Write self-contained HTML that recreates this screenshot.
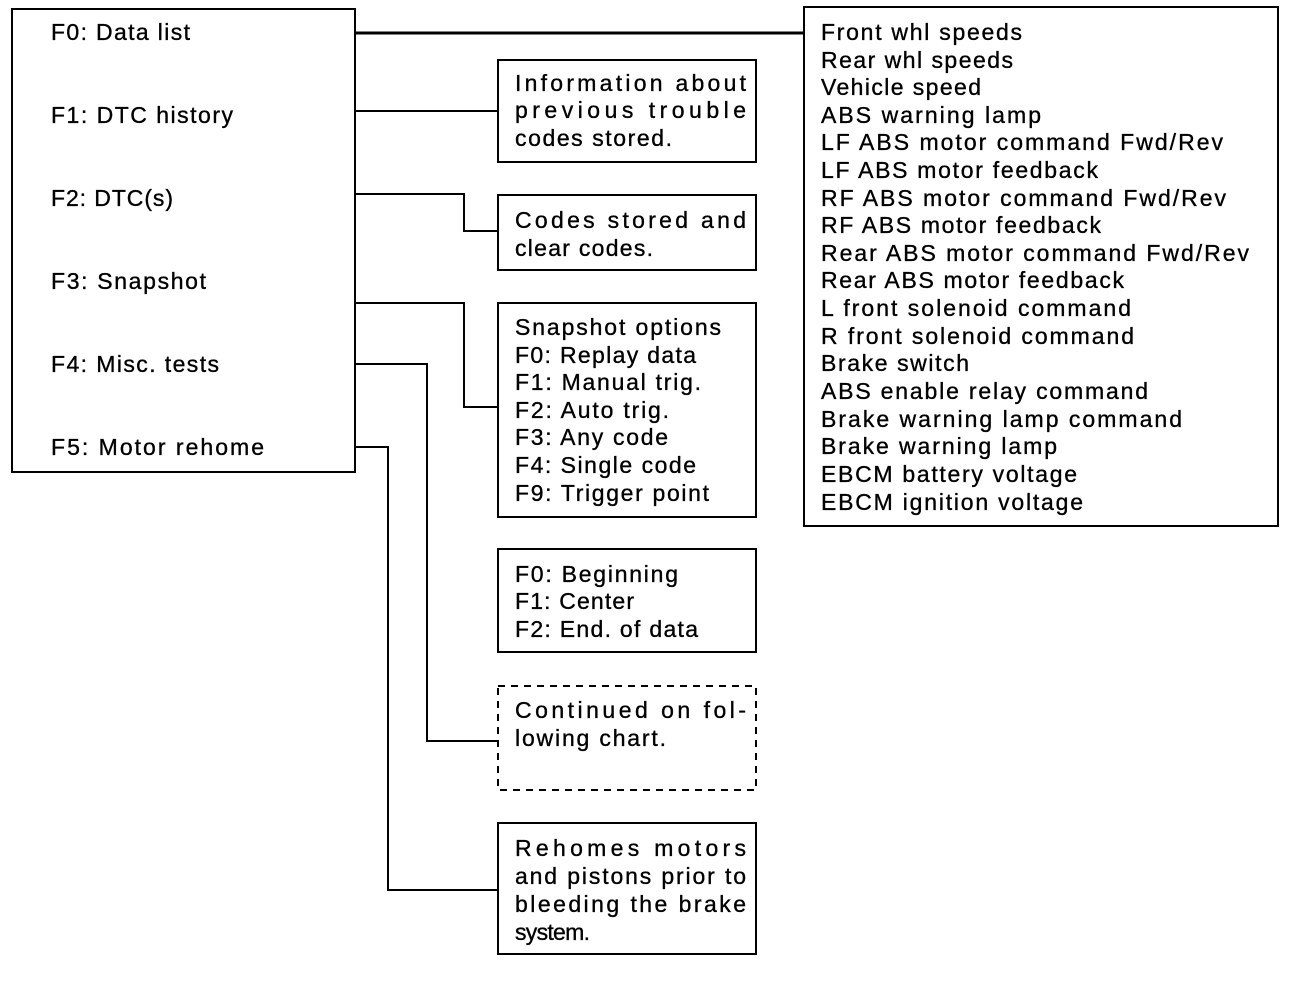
<!DOCTYPE html>
<html><head><meta charset="utf-8"><style>
html,body{margin:0;padding:0;background:#fff;}
svg{display:block;}
text{font-family:"Liberation Sans",sans-serif;font-size:23px;fill:#000;stroke:#000;stroke-width:0.35;}
</style></head><body>
<svg width="1296" height="982" viewBox="0 0 1296 982" xmlns="http://www.w3.org/2000/svg">
<g fill="none" stroke="#000" stroke-width="2">
<rect x="12" y="9" width="343" height="463"/>
<rect x="804" y="7" width="474" height="519"/>
<rect x="498" y="60" width="258" height="102"/>
<rect x="498" y="195" width="258" height="75"/>
<rect x="498" y="303" width="258" height="214"/>
<rect x="498" y="549" width="258" height="103"/>
<rect x="498" y="686" width="258" height="104" stroke-dasharray="7,6"/>
<rect x="498" y="823" width="258" height="131"/>
<line x1="355" y1="33" x2="804" y2="33" stroke-width="3"/>
<line x1="355" y1="111" x2="498" y2="111"/>
<polyline points="355,194 464,194 464,231 498,231" />
<polyline points="355,303 464,303 464,407 498,407"/>
<polyline points="355,364 427,364 427,741 498,741"/>
<polyline points="355,447 388,447 388,890 498,890"/>
</g>
<text x="51" y="40" textLength="139" lengthAdjust="spacing">F0: Data list</text>
<text x="51" y="123" textLength="182" lengthAdjust="spacing">F1: DTC history</text>
<text x="51" y="206" textLength="122" lengthAdjust="spacing">F2: DTC(s)</text>
<text x="51" y="289" textLength="155" lengthAdjust="spacing">F3: Snapshot</text>
<text x="51" y="372" textLength="168" lengthAdjust="spacing">F4: Misc. tests</text>
<text x="51" y="455" textLength="213" lengthAdjust="spacing">F5: Motor rehome</text>

<text x="821" y="40" textLength="201" lengthAdjust="spacing">Front whl speeds</text>
<text x="821" y="68" textLength="192" lengthAdjust="spacing">Rear whl speeds</text>
<text x="821" y="95" textLength="160" lengthAdjust="spacing">Vehicle speed</text>
<text x="821" y="123" textLength="220" lengthAdjust="spacing">ABS warning lamp</text>
<text x="821" y="150" textLength="402" lengthAdjust="spacing">LF ABS motor command Fwd/Rev</text>
<text x="821" y="178" textLength="277" lengthAdjust="spacing">LF ABS motor feedback</text>
<text x="821" y="206" textLength="405" lengthAdjust="spacing">RF ABS motor command Fwd/Rev</text>
<text x="821" y="233" textLength="280" lengthAdjust="spacing">RF ABS motor feedback</text>
<text x="821" y="261" textLength="428" lengthAdjust="spacing">Rear ABS motor command Fwd/Rev</text>
<text x="821" y="288" textLength="303" lengthAdjust="spacing">Rear ABS motor feedback</text>
<text x="821" y="316" textLength="310" lengthAdjust="spacing">L front solenoid command</text>
<text x="821" y="344" textLength="313" lengthAdjust="spacing">R front solenoid command</text>
<text x="821" y="371" textLength="148" lengthAdjust="spacing">Brake switch</text>
<text x="821" y="399" textLength="327" lengthAdjust="spacing">ABS enable relay command</text>
<text x="821" y="427" textLength="361" lengthAdjust="spacing">Brake warning lamp command</text>
<text x="821" y="454" textLength="236" lengthAdjust="spacing">Brake warning lamp</text>
<text x="821" y="482" textLength="256" lengthAdjust="spacing">EBCM battery voltage</text>
<text x="821" y="510" textLength="262" lengthAdjust="spacing">EBCM ignition voltage</text>

<text x="515" y="91" textLength="231" lengthAdjust="spacing">Information about</text>
<text x="515" y="118" textLength="231" lengthAdjust="spacing">previous trouble</text>
<text x="515" y="146" textLength="157" lengthAdjust="spacing">codes stored.</text>

<text x="515" y="228" textLength="231" lengthAdjust="spacing">Codes stored and</text>
<text x="515" y="256" textLength="138" lengthAdjust="spacing">clear codes.</text>

<text x="515" y="335" textLength="206" lengthAdjust="spacing">Snapshot options</text>
<text x="515" y="363" textLength="181" lengthAdjust="spacing">F0: Replay data</text>
<text x="515" y="390" textLength="186" lengthAdjust="spacing">F1: Manual trig.</text>
<text x="515" y="418" textLength="154" lengthAdjust="spacing">F2: Auto trig.</text>
<text x="515" y="445" textLength="153" lengthAdjust="spacing">F3: Any code</text>
<text x="515" y="473" textLength="181" lengthAdjust="spacing">F4: Single code</text>
<text x="515" y="501" textLength="194" lengthAdjust="spacing">F9: Trigger point</text>

<text x="515" y="582" textLength="163" lengthAdjust="spacing">F0: Beginning</text>
<text x="515" y="609" textLength="119" lengthAdjust="spacing">F1: Center</text>
<text x="515" y="637" textLength="183" lengthAdjust="spacing">F2: End. of data</text>

<text x="515" y="718" textLength="231" lengthAdjust="spacing">Continued on fol-</text>
<text x="515" y="746" textLength="151" lengthAdjust="spacing">lowing chart.</text>

<text x="515" y="856" textLength="231" lengthAdjust="spacing">Rehomes motors</text>
<text x="515" y="884" textLength="231" lengthAdjust="spacing">and pistons prior to</text>
<text x="515" y="912" textLength="231" lengthAdjust="spacing">bleeding the brake</text>
<text x="515" y="940" textLength="75" lengthAdjust="spacing">system.</text>
</svg>
</body></html>
